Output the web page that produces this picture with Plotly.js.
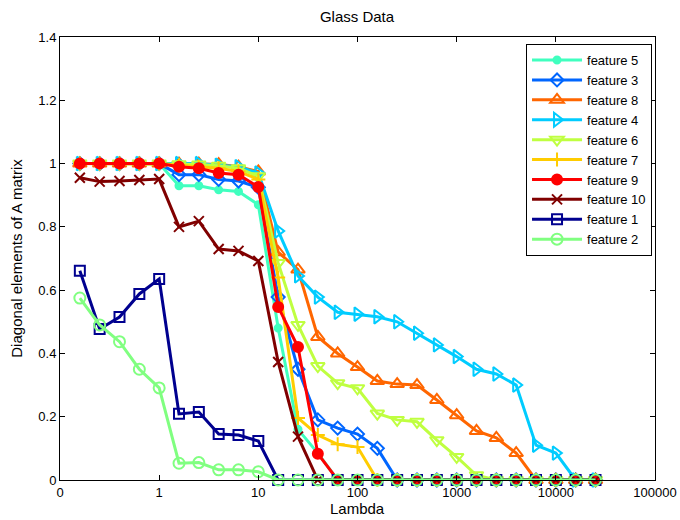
<!DOCTYPE html>
<html>
<head>
<meta charset="utf-8">
<script src="https://cdn.plot.ly/plotly-3.0.1.min.js"></script>
<style>html,body{margin:0;padding:0;background:#fff;}#chart{width:680px;height:520px;}</style>
</head>
<body>
<div id="chart"></div>
<script>
const lambda = [0.1585, 0.2512, 0.3981, 0.631, 1, 1.585, 2.512, 3.981, 6.31, 10, 15.85, 25.12, 39.81, 63.1, 100, 158.5, 251.2, 398.1, 631, 1000, 1585, 2512, 3981, 6310, 10000, 15850, 25120];

const feature5  = [1, 1, 1, 1, 1, 0.93, 0.93, 0.917, 0.912, 0.87, 0.48, 0.16, 0.085, 0, 0, 0, 0, 0, 0, 0, 0, 0, 0, 0, 0, 0, 0];
const feature3  = [1, 1, 1, 1, 1, 0.965, 0.965, 0.95, 0.945, 0.925, 0.578, 0.35, 0.19, 0.164, 0.145, 0.10, 0, 0, 0, 0, 0, 0, 0, 0, 0, 0, 0];
const feature8  = [1, 1, 1, 1, 1, 1, 1, 0.998, 0.99, 0.975, 0.72, 0.665, 0.452, 0.40, 0.357, 0.313, 0.303, 0.30, 0.253, 0.205, 0.155, 0.133, 0.085, 0, 0, 0, 0];
const feature4  = [1, 1, 1, 1, 1, 1, 1, 0.995, 0.99, 0.97, 0.787, 0.645, 0.578, 0.53, 0.524, 0.516, 0.50, 0.464, 0.427, 0.39, 0.35, 0.335, 0.30, 0.11, 0.085, 0, 0];
const feature6  = [1, 1, 1, 1, 1, 0.998, 0.997, 0.993, 0.985, 0.96, 0.686, 0.49, 0.36, 0.306, 0.29, 0.21, 0.19, 0.184, 0.126, 0.073, 0.015, 0, 0, 0, 0, 0, 0];
const feature7  = [1, 1, 1, 1, 1, 0.995, 0.99, 0.985, 0.975, 0.95, 0.64, 0.196, 0.142, 0.113, 0.104, 0, 0, 0, 0, 0, 0, 0, 0, 0, 0, 0, 0];
const feature9  = [1, 1, 1, 1, 1, 0.99, 0.985, 0.97, 0.965, 0.926, 0.547, 0.42, 0.083, 0, 0, 0, 0, 0, 0, 0, 0, 0, 0, 0, 0, 0, 0];
const feature10 = [0.955, 0.943, 0.945, 0.948, 0.951, 0.80, 0.818, 0.73, 0.724, 0.692, 0.373, 0.137, 0, 0, 0, 0, 0, 0, 0, 0, 0, 0, 0, 0, 0, 0, 0];
const feature1  = [0.661, 0.477, 0.515, 0.588, 0.635, 0.209, 0.215, 0.145, 0.142, 0.123, 0, 0, 0, 0, 0, 0, 0, 0, 0, 0, 0, 0, 0, 0, 0, 0, 0];
const feature2  = [0.575, 0.49, 0.437, 0.35, 0.291, 0.053, 0.055, 0.032, 0.032, 0.026, 0, 0, 0, 0, 0, 0, 0, 0, 0, 0, 0, 0, 0, 0, 0, 0, 0];

const seriesNames = ["feature 5", "feature 3", "feature 8", "feature 4", "feature 6", "feature 7", "feature 9", "feature 10", "feature 1", "feature 2"];
const seriesValues = [feature5, feature3, feature8, feature4, feature6, feature7, feature9, feature10, feature1, feature2];
const seriesColors = ["#40FFBF", "#0066FF", "#FF6600", "#00CCFF", "#BFFF40", "#FFCC00", "#FF0000", "#800000", "#00008F", "#80FF80"];
const seriesSymbols = ["circle", "diamond-open", "triangle-up-open", "triangle-right-open", "triangle-down-open", "cross-thin-open", "circle", "x-thin-open", "square-open", "circle-open"];
const seriesSizes = [7, 10, 12, 12, 12, 10, 10, 10, 10, 11];

const xTickVals = [0.1, 1, 10, 100, 1000, 10000, 100000];
const xTickText = ["0", "1", "10", "100", "1000", "10000", "100000"];

const traces = seriesNames.map((n, i) => ({
  type: "scatter",
  mode: "lines+markers",
  name: n,
  x: lambda,
  y: seriesValues[i],
  line: {color: seriesColors[i], width: 3},
  marker: {symbol: seriesSymbols[i], size: seriesSizes[i], color: seriesColors[i], line: {color: seriesColors[i], width: 2}},
  cliponaxis: false
}));

const fam = "Liberation Sans, Arial, sans-serif";
const f = (s) => ({family: fam, size: s, color: "#000"});

const layout = {
  width: 680, height: 520,
  margin: {l: 60, r: 25, t: 37, b: 40},
  paper_bgcolor: "#fff", plot_bgcolor: "#fff",
  font: f(13),
  title: {text: "Glass Data", font: f(15), x: 0.525, xanchor: "center", y: 0.967, yanchor: "middle"},
  xaxis: {
    type: "log", range: [-1, 5],
    tickvals: xTickVals, ticktext: xTickText,
    ticks: "inside", ticklen: 5, tickcolor: "#000", tickwidth: 1,
    showline: true, linecolor: "#000", linewidth: 1, mirror: "ticks",
    showgrid: false, zeroline: false,
    tickfont: f(13)
  },
  yaxis: {
    range: [0, 1.4], dtick: 0.2, tick0: 0,
    ticks: "inside", ticklen: 5, tickcolor: "#000", tickwidth: 1,
    showline: true, linecolor: "#000", linewidth: 1, mirror: "ticks",
    showgrid: false, zeroline: false,
    tickfont: f(13),
    title: {text: "Diagonal elements of A matrix", font: f(15), standoff: 12}
  },
  annotations: [{
    text: "Lambda", font: f(15), showarrow: false,
    xref: "paper", yref: "paper", x: 0.5, y: -0.064, xanchor: "center", yanchor: "middle"
  }],
  legend: {
    x: 0.995, xanchor: "right", y: 0.984, yanchor: "top",
    bgcolor: "#fff", bordercolor: "#000", borderwidth: 1,
    font: f(13),
    itemwidth: 50,
    tracegroupgap: 0
  },
  showlegend: true
};

Plotly.newPlot("chart", traces, layout, {staticPlot: true, displayModeBar: false});
</script>
</body>
</html>
